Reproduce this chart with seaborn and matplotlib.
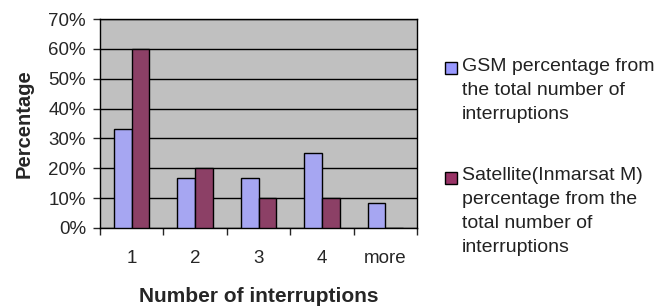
import matplotlib
matplotlib.use("Agg")
import matplotlib.pyplot as plt
from matplotlib.patches import Rectangle
from matplotlib.ticker import PercentFormatter, FixedLocator
import pandas as pd
import seaborn as sns

categories = ["1", "2", "3", "4", "more"]
gsm = [0.333, 0.167, 0.167, 0.25, 0.083]
satellite = [0.60, 0.20, 0.10, 0.10, 0.0]
series_names = ["GSM percentage from\nthe total number of\ninterruptions",
                "Satellite(Inmarsat M)\npercentage from the\ntotal number of\ninterruptions"]
colors = ["#9999FF", "#993366"]

df = pd.DataFrame({
    "cat": categories * 2,
    "val": gsm + satellite,
    "series": [series_names[0]] * 5 + [series_names[1]] * 5,
})

sns.set_style("white")
plt.rcParams["font.family"] = ["Liberation Sans", "DejaVu Sans"]

W, H = 661, 308
fig = plt.figure(figsize=(W / 100, H / 100), dpi=100)
ax = fig.add_axes([100 / W, 1 - 228 / H, 317 / W, 209 / H])
ax.set_facecolor("#C0C0C0")

sns.barplot(data=df, x="cat", y="val", hue="series", palette=colors,
            width=0.56, edgecolor="black", linewidth=1, ax=ax,
            zorder=3, legend=False)

ax.set_ylim(0, 0.7)
ax.set_xlim(-0.5, 4.5)
ax.yaxis.set_major_locator(FixedLocator([i / 10 for i in range(8)]))
ax.yaxis.set_major_formatter(PercentFormatter(1, decimals=0))
ax.yaxis.grid(True, color="black", linewidth=1, zorder=0)
ax.set_axisbelow(True)

ax.set_xticks(range(5))
ax.set_xticklabels(categories)
ax.set_xticks([i - 0.5 for i in range(6)], minor=True)
ax.tick_params(axis="x", which="major", length=0, pad=16, labelsize=13.5)
ax.tick_params(axis="x", which="minor", length=5, width=1, direction="out", bottom=True)
ax.tick_params(axis="y", length=5, width=1, direction="out", left=True,
               labelsize=13.5, pad=5)

for sp in ax.spines.values():
    sp.set_color("black")
    sp.set_linewidth(1)

ax.set_xlabel("Number of interruptions", fontsize=15, fontweight="bold", labelpad=14)
ax.set_ylabel("Percentage", fontsize=14.5, fontweight="bold", labelpad=11)

# legend to the right, Excel style: square beside the first line of each entry
legend_rows = [(62, 58), (172, 167)]  # (square top, text top) in pixels
for (sq_top, txt_top), name, col in zip(legend_rows, series_names, colors):
    fig.add_artist(Rectangle((445 / W, 1 - (sq_top + 12) / H), 12 / W, 12 / H,
                             transform=fig.transFigure, facecolor=col,
                             edgecolor="black", linewidth=1))
    fig.text(462 / W, 1 - txt_top / H, name, fontsize=14, va="top", ha="left",
             linespacing=1.55, color="#222222")

fig.savefig("out.png", dpi=100)
